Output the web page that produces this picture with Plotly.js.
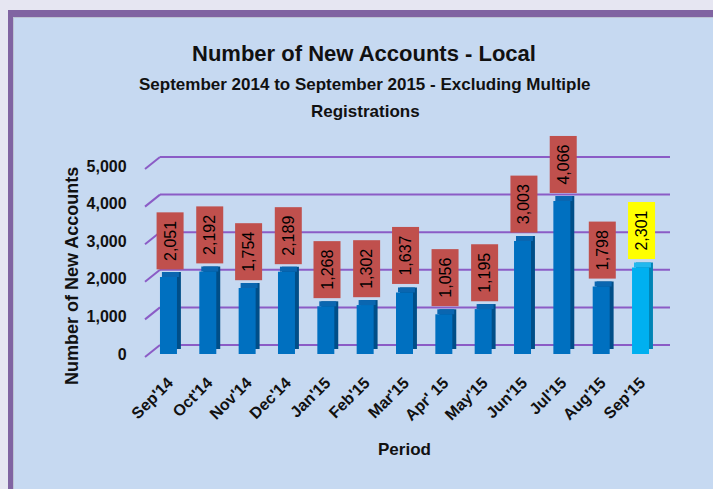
<!DOCTYPE html>
<html>
<head>
<meta charset="utf-8">
<script src="https://cdn.plot.ly/plotly-3.0.1.min.js"></script>
<style>
  html, body { margin:0; padding:0; width:713px; height:489px; overflow:hidden; background:#e6e6f2; }
  #f1 { position:absolute; left:8px; top:10px; width:720px; height:500px; background:#8064a2; }
  #f2 { position:absolute; left:13px; top:17px; width:720px; height:500px; background:#bcc3d3; }
  #f3 { position:absolute; left:14px; top:18px; width:720px; height:500px; background:#c6d9f1; }
  #chart { position:absolute; left:0; top:0; width:713px; height:489px; }
</style>
</head>
<body>
<div id="f1"></div><div id="f2"></div><div id="f3"></div>
<div id="chart"></div>
<script>
// ---- data ----
const categories = ["Sep'14","Oct'14","Nov'14","Dec'14","Jan'15","Feb'15","Mar'15","Apr' 15","May'15","Jun'15","Jul'15","Aug'15","Sep'15"];
const values = [2051, 2192, 1754, 2189, 1268, 1302, 1637, 1056, 1195, 3003, 4066, 1798, 2301];
const yTicks = [0, 1000, 2000, 3000, 4000, 5000];
const titleText = "Number of New Accounts - Local";
const subtitleLines = ["September 2014 to September 2015 - Excluding Multiple", "Registrations"];
const yTitle = "Number of New Accounts";
const xTitle = "Period";

// ---- styling ----
const W = 713, H = 489;
const FONT = "Liberation Sans, Arial, sans-serif";
const GRID = "#8b5cc6";
const last = values.length - 1;
const frontCol = values.map((v, i) => i === last ? "#00b0f0" : "#0070c0");
const sideCol  = values.map((v, i) => i === last ? "#0284b5" : "#004e88");
const topCol   = values.map((v, i) => i === last ? "#22b8ee" : "#0a66b0");
const labelBg  = values.map((v, i) => i === last ? "#ffff00" : "#c0504d");

const pxPerUnit = 188 / 5000;
const depthUnits = 5 / pxPerUnit;
const px = x => x / W;
const py = y => 1 - y / H;

// back wall geometry (pixels)
const wallL = 160, wallR = 670, wall0 = 345, wall5k = 157;
const diagDx = 15, diagDy = 12;
const wallW = wallR - wallL;
const xLo = -(diagDx + 2) / wallW;
const yLo = -(diagDy + 2) / pxPerUnit;
const yHi = 5000 + 2 / pxPerUnit;

const traces = [
  { type: "scatter", x: [], y: [], xaxis: "x", yaxis: "y", hoverinfo: "skip", showlegend: false },
  { type: "bar", x: categories, y: values, base: values.map(() => depthUnits),
    xaxis: "x2", yaxis: "y2", offset: -0.116, width: 0.432,
    marker: { color: sideCol, line: { width: 0 } }, hoverinfo: "skip", cliponaxis: false },
  { type: "bar", x: categories, y: values.map(() => depthUnits), base: values,
    xaxis: "x2", yaxis: "y2", offset: -0.166, width: 0.432,
    marker: { color: topCol, line: { width: 0 } }, hoverinfo: "skip", cliponaxis: false },
  { type: "bar", x: categories, y: values,
    xaxis: "x2", yaxis: "y2", offset: -0.216, width: 0.432,
    marker: { color: frontCol, line: { width: 0 } }, hoverinfo: "skip", cliponaxis: false }
];

const annotations = [];
subtitleLines.forEach((t, i) => annotations.push({
  text: t, xref: "paper", yref: "paper", x: px(365), y: py(84 + 27 * i),
  xanchor: "center", yanchor: "middle", showarrow: false,
  font: { family: FONT, size: 17, color: "#111", weight: 700 }
}));
annotations.push({
  text: yTitle, xref: "paper", yref: "paper", x: px(72), y: py(276), textangle: -90,
  xanchor: "center", yanchor: "middle", showarrow: false,
  font: { family: FONT, size: 18, color: "#111", weight: 700 }
});
annotations.push({
  text: xTitle, xref: "paper", yref: "paper", x: px(404), y: py(449),
  xanchor: "center", yanchor: "middle", showarrow: false,
  font: { family: FONT, size: 17, color: "#111", weight: 700 }
});
values.forEach((v, i) => annotations.push({
  text: v.toLocaleString("en-US"), xref: "x2", yref: "y2", x: categories[i], y: v,
  xanchor: "center", yanchor: "bottom", yshift: 8, xshift: 1.5, textangle: -90,
  showarrow: false, width: 57, height: 27, borderpad: 0, borderwidth: 0,
  bgcolor: labelBg[i], font: { family: FONT, size: 16, color: "#000" }
}));

const shapes = [];
yTicks.forEach(v => {
  shapes.push({ type: "line", xref: "x", yref: "y", x0: 0, x1: 1, y0: v, y1: v,
                line: { color: GRID, width: 2 }, layer: "below" });
  shapes.push({ type: "line", xref: "x", yref: "y", x0: -diagDx / wallW, x1: 0,
                y0: v - diagDy / pxPerUnit, y1: v,
                line: { color: GRID, width: 2 }, layer: "below" });
});

const layout = {
  width: W, height: H,
  margin: { l: 0, r: 0, t: 0, b: 0, pad: 0 },
  paper_bgcolor: "rgba(0,0,0,0)", plot_bgcolor: "rgba(0,0,0,0)",
  showlegend: false, barmode: "overlay",
  font: { family: FONT, color: "#111" },
  title: { text: titleText, xref: "paper", yref: "paper", x: px(364), y: py(53),
           xanchor: "center", yanchor: "middle",
           font: { family: FONT, size: 22, color: "#111", weight: 700 } },
  xaxis: { domain: [px(wallL + xLo * wallW), px(wallR)], range: [xLo, 1], anchor: "y",
           visible: false, fixedrange: true },
  yaxis: { domain: [py(wall0 - yLo * pxPerUnit), py(wall5k - (yHi - 5000) * pxPerUnit)],
           range: [yLo, yHi], anchor: "x", visible: false, showgrid: false, zeroline: false, fixedrange: true },
  xaxis2: { domain: [px(148.8), px(660.2)], anchor: "y2", type: "category", range: [-0.5, 12.5],
            tickangle: -45, ticks: "outside", ticklen: 12, tickcolor: "rgba(0,0,0,0)",
            tickfont: { family: FONT, size: 16, color: "#111", weight: 700 },
            showgrid: false, zeroline: false, showline: false, fixedrange: true },
  yaxis2: { domain: [py(354), py(166)], anchor: "x2", range: [0, 5000],
            tickvals: yTicks, ticktext: yTicks.map(v => v.toLocaleString("en-US")),
            ticks: "outside", ticklen: 18, tickcolor: "rgba(0,0,0,0)",
            tickfont: { family: FONT, size: 16, color: "#111", weight: 700 },
            showgrid: false, zeroline: false, showline: false, fixedrange: true },
  annotations: annotations,
  shapes: shapes
};

Plotly.newPlot("chart", traces, layout, { displayModeBar: false, staticPlot: true });
</script>
</body>
</html>
